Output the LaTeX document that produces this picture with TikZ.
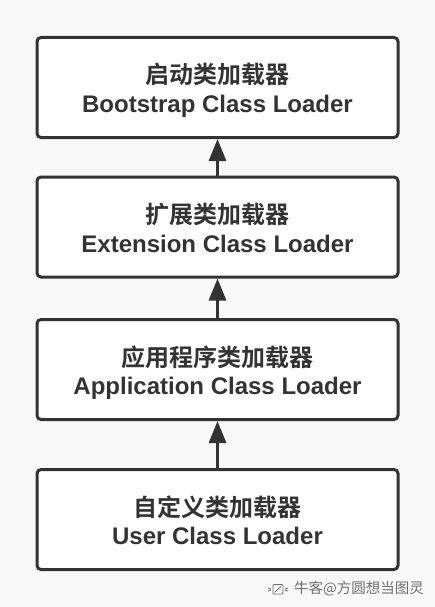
\documentclass[tikz,border=0pt]{standalone}
\usepackage{fontspec}
\setmainfont{Liberation Sans}[BoldFont={Liberation Sans Bold}]
\newfontfamily\enbold{Liberation Sans Bold}
\newfontfamily\cjk{Noto Sans CJK SC}[BoldFont={Noto Sans CJK SC Bold}]
\usetikzlibrary{arrows.meta}
\definecolor{ink}{HTML}{333333}
\definecolor{bg}{HTML}{F8F8F8}
\definecolor{wm}{HTML}{707070}
\begin{document}
\begin{tikzpicture}[x=1pt,y=-1pt,
  loader/.style={draw=ink, line width=3pt, fill=white, rounded corners=4pt,
    minimum width=361pt, minimum height=100pt, inner sep=0pt},
  cn/.style={anchor=base, text=ink, inner sep=0pt, font=\cjk\bfseries\fontsize{24}{26}\selectfont},
  en/.style={anchor=base, text=ink, inner sep=0pt, font=\enbold\fontsize{24}{26}\selectfont},
  up/.style={draw=ink, line width=3pt, -{Triangle[width=17pt,length=22pt]}}]
\fill[bg] (0,0) rectangle (435,607);
\useasboundingbox (0,0) rectangle (435,607);
% boxes
\node[loader] (b1) at (217.5,87.5) {};
\node[loader] (b2) at (217.5,227) {};
\node[loader] (b3) at (217.5,369.5) {};
\node[loader] (b4) at (217.5,519.5) {};
% texts
\node[cn] (c1) at (217.5,84) {启动类加载器};
\node[en] (e1) at (217.5,112.5) {Bootstrap Class Loader};
\node[cn] (c2) at (217.5,223.5) {扩展类加载器};
\node[en] (e2) at (217.5,252) {Extension Class Loader};
\node[cn] (c3) at (217.5,366) {应用程序类加载器};
\node[en] (e3) at (217.5,394) {Application Class Loader};
\node[cn] (c4) at (217.5,516) {自定义类加载器};
\node[en] (e4) at (217.5,544) {User Class Loader};
% arrows
\draw[up] (b2.north) -- (b1.south);
\draw[up] (b3.north) -- (b2.south);
\draw[up] (b4.north) -- (b3.south);
% watermark
\node[anchor=west, inner sep=0pt, text=wm, font=\cjk\fontsize{14.5}{16}\selectfont] (wmk) at (294,589) {牛客@方圆想当图灵};
\draw[wm, line width=0.8pt, rounded corners=1pt] (273,584.5) rectangle (283,594);
\draw[wm, line width=0.8pt] (275,592) -- (281,586.5);
\draw[wm, line width=0.8pt] (268,588) -- (271,589) (268,591) -- (271,590) (285,589) -- (288,588) (285,590) -- (288,591);
\end{tikzpicture}
\end{document}
